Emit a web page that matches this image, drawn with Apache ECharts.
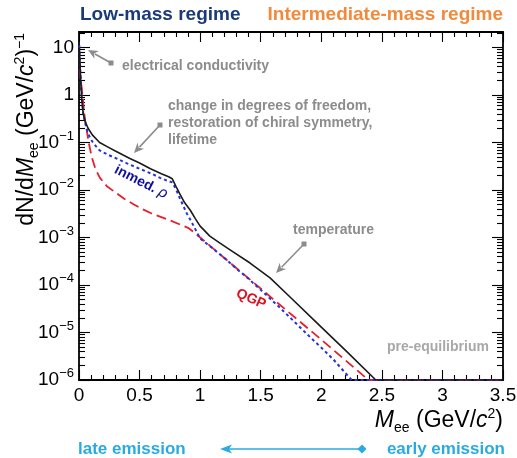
<!DOCTYPE html>
<html><head><meta charset="utf-8">
<script src="https://cdn.jsdelivr.net/npm/echarts@6.0.0/dist/echarts.min.js"></script>
<style>html,body{margin:0;padding:0;background:#fff}#c{width:517px;height:458px}</style>
</head><body><div id="c"></div>
<script>
// ---- data (M_ee in GeV/c^2, dN/dM_ee) ----
const totalMass  = [0.003, 0.01, 0.018, 0.025, 0.035, 0.05, 0.075, 0.11, 0.17, 0.24, 0.3, 0.36, 0.42, 0.5, 0.59, 0.68, 0.74, 0.77, 0.8, 0.83, 0.87, 0.92, 0.96, 1.0, 1.08, 1.164, 1.247, 1.412, 1.577, 1.742, 2.0, 2.2, 2.45, 3.5];
const totalYield = [10, 3.5, 1.3, 0.7, 0.4, 0.28, 0.2, 0.145, 0.1, 0.08, 0.066, 0.055, 0.046, 0.037, 0.028, 0.022, 0.019, 0.0172, 0.012, 0.0085, 0.0055, 0.0037, 0.0025, 1.74e-3, 1.07e-3, 7.6e-4, 5.5e-4, 2.9e-4, 1.41e-4, 5.6e-5, 1.3e-5, 4.2e-6, 1e-6, 1e-6];
const rhoMass    = [0.003, 0.008, 0.015, 0.025, 0.035, 0.05, 0.07, 0.09, 0.12, 0.17, 0.24, 0.31, 0.4, 0.5, 0.6, 0.67, 0.72, 0.77, 0.8, 0.83, 0.86, 0.89, 0.93, 0.96, 1.0, 1.1, 1.2, 1.3, 1.4, 1.5, 1.66, 1.8, 1.91, 2.0, 2.1, 2.25, 3.5];
const rhoYield   = [11, 4.5, 1.8, 0.76, 0.42, 0.26, 0.17, 0.126, 0.095, 0.068, 0.055, 0.046, 0.036, 0.028, 0.022, 0.018, 0.016, 0.0145, 0.0105, 0.0069, 0.0047, 0.0032, 0.0021, 0.0015, 9.5e-4, 6.0e-4, 3.7e-4, 2.2e-4, 1.35e-4, 7.9e-5, 3.3e-5, 1.48e-5, 7.9e-6, 4.8e-6, 2.7e-6, 1e-6, 1e-6];
const qgpMass    = [0.005, 0.015, 0.022, 0.03, 0.041, 0.05, 0.064, 0.08, 0.105, 0.135, 0.173, 0.23, 0.3, 0.37, 0.45, 0.52, 0.6, 0.75, 0.9, 0.95, 1.0, 1.2, 1.4, 1.6, 1.8, 2.0, 2.2, 2.39, 3.5];
const qgpYield   = [3.5, 2.0, 1.45, 0.9, 0.47, 0.3, 0.18, 0.1, 0.05, 0.028, 0.018, 0.012, 0.0089, 0.0066, 0.005, 0.004, 0.0032, 0.0023, 0.0016, 0.00128, 0.001, 3.7e-4, 1.38e-4, 5.1e-5, 1.9e-5, 7.1e-6, 2.6e-6, 1e-6, 1e-6];

const xTickValues = [0, 0.5, 1, 1.5, 2, 2.5, 3, 3.5];
const yDecades    = [1e-6, 1e-5, 1e-4, 1e-3, 1e-2, 1e-1, 1, 10];
const Y_MIN = 1e-6, Y_MAX = 21.2;

const yMinorTicks = [];
yDecades.forEach(d => { for (let k = 2; k <= 9; k++) { const v = d * k; if (v <= Y_MAX) yMinorTicks.push(v); } });

const zip = (a, b) => a.map((x, i) => [x, b[i]]);
const FONT = '"Liberation Sans", Arial, Helvetica, sans-serif';
const GRAY = '#8c8c8c';

function yLabel(v) {
  const n = Math.round(Math.log10(v));
  if (n === 0) return '{b|1}';
  if (n === 1) return '{b|10}';
  return '{b|10}{s|' + (n < 0 ? '\u2212' : '') + Math.abs(n) + '}';
}

function yAxisDef(pos, major) {
  return {
    type: 'log', logBase: 10, min: Y_MIN, max: Y_MAX, position: pos,
    axisLine: { show: major, onZero: false, lineStyle: { color: '#000', width: 1.8 } },
    axisTick: { show: true, inside: true, length: major ? 11 : 6,
      customValues: major ? yDecades : yMinorTicks, lineStyle: { color: '#000', width: 1.1 } },
    minorTick: { show: false },
    splitLine: { show: false },
    axisLabel: (major && pos === 'left') ? {
      show: true, customValues: yDecades, formatter: yLabel, margin: 5,
      rich: {
        b: { fontSize: 19, fontFamily: FONT, color: '#000', lineHeight: 26 },
        s: { fontSize: 13, fontFamily: FONT, color: '#000', verticalAlign: 'top' }
      }
    } : { show: false }
  };
}

function xAxisDef(pos) {
  return {
    type: 'value', min: 0, max: 3.5, interval: 0.5, position: pos,
    axisLine: { show: true, onZero: false, lineStyle: { color: '#000', width: 1.8 } },
    axisTick: { show: true, inside: true, length: 10, lineStyle: { color: '#000', width: 1.1 } },
    minorTick: { show: true, splitNumber: 5, length: 5, lineStyle: { color: '#000', width: 1.1 } },
    splitLine: { show: false },
    axisLabel: pos === 'bottom' ? { show: true, customValues: xTickValues, fontSize: 19, fontFamily: FONT, color: '#000', margin: 6 } : { show: false }
  };
}

function arrow(x1, y1, x2, y2, color, w) {
  const a = Math.atan2(y2 - y1, x2 - x1), L = 10, W = 4.5;
  const c = Math.cos(a), s = Math.sin(a);
  const bx = x2 - L * c, by = y2 - L * s;
  return [
    { type: 'line', shape: { x1: x1, y1: y1, x2: bx + 2 * c, y2: by + 2 * s }, style: { stroke: color, lineWidth: w }, z: 50 },
    { type: 'polygon', shape: { points: [[x2, y2], [bx + W * s, by - W * c], [bx + 3 * c, by + 3 * s], [bx - W * s, by + W * c]] }, style: { fill: color }, z: 50 },
    { type: 'rect', shape: { x: x1 - 2.5, y: y1 - 2.5, width: 5, height: 5 }, style: { fill: color }, z: 50 }
  ];
}

function txt(x, y, text, opt) {
  return Object.assign({ type: 'text', x: x, y: y, z: 60,
    style: Object.assign({ text: text, fontFamily: FONT, fontSize: 14, fontWeight: 'bold', fill: GRAY, align: 'left', verticalAlign: 'middle' }, opt || {}) });
}

const chart = echarts.init(document.getElementById('c'), null, { renderer: 'canvas' });

const titleRich = {
  t: { fontFamily: FONT, fontSize: 23, fill: '#000', lineHeight: 28 },
  i: { fontFamily: FONT, fontSize: 23, fontStyle: 'italic', fill: '#000', lineHeight: 28 },
  sub: { fontFamily: FONT, fontSize: 14, fill: '#000', verticalAlign: 'bottom' },
  sup: { fontFamily: FONT, fontSize: 14, fill: '#000', verticalAlign: 'top' }
};

const graphics = [];
// headers
graphics.push(txt(80, 15, 'Low-mass regime', { fontSize: 19, fill: '#1b3a78' }));
graphics.push(txt(503, 15, 'Intermediate-mass regime', { fontSize: 19, fill: '#f28a3c', align: 'right' }));
// annotations
graphics.push(txt(122, 66, 'electrical conductivity'));
graphics.push(...arrow(111, 63, 88, 50, GRAY, 1.6));
graphics.push(txt(168, 106, 'change in degrees of freedom,'));
graphics.push(txt(168, 123, 'restoration of chiral symmetry,'));
graphics.push(txt(168, 140, 'lifetime'));
graphics.push(...arrow(160, 125, 134, 153, GRAY, 1.6));
graphics.push(txt(293, 230, 'temperature'));
graphics.push(...arrow(304, 244, 276, 273, GRAY, 1.6));
graphics.push(txt(387, 347, 'pre-equilibrium', { fill: '#a8a8a8' }));
// curve labels
graphics.push({ type: 'text', x: 141, y: 182, rotation: -0.47, z: 60,
  style: { text: '{a|inmed. }{r|\u03c1}', align: 'center', verticalAlign: 'middle',
    rich: { a: { fontFamily: FONT, fontSize: 14, fontWeight: 'bold', fill: '#1010a0' },
            r: { fontFamily: FONT, fontSize: 15, fontStyle: 'italic', fill: '#1010a0' } } } });
graphics.push({ type: 'text', x: 251, y: 299, rotation: -0.42, z: 60,
  style: { text: 'QGP', align: 'center', verticalAlign: 'middle', fontFamily: FONT, fontSize: 14, fontWeight: 'bold', fill: '#e01020' } });
// axis titles
graphics.push({ type: 'text', x: 27, y: 33, rotation: Math.PI / 2, z: 60,
  style: { text: '{t|dN/d}{i|M}{sub|ee}{t| (GeV/}{i|c}{sup|2}{t|)}{sup|\u22121}', align: 'right', verticalAlign: 'middle', rich: titleRich } });
graphics.push({ type: 'text', x: 503, y: 421, z: 60,
  style: { text: '{i|M}{sub|ee}{t| (GeV/}{i|c}{sup|2}{t|)}', align: 'right', verticalAlign: 'middle', rich: titleRich } });
// emission time arrow
const CY = '#29abe2';
graphics.push(txt(78, 449, 'late emission', { fontSize: 17, fill: CY }));
graphics.push(txt(505, 449, 'early emission', { fontSize: 17, fill: CY, align: 'right' }));
graphics.push({ type: 'line', shape: { x1: 228, y1: 449, x2: 362, y2: 449 }, style: { stroke: CY, lineWidth: 1.6 }, z: 50 });
graphics.push({ type: 'polygon', shape: { points: [[220, 449], [232, 444.5], [229, 449], [232, 453.5]] }, style: { fill: CY }, z: 50 });
graphics.push({ type: 'polygon', shape: { points: [[362, 444.5], [366.5, 449], [362, 453.5], [357.5, 449]] }, style: { fill: CY }, z: 50 });

chart.setOption({
  animation: false,
  backgroundColor: '#fff',
  grid: { left: 79, right: 14, top: 32, bottom: 78, containLabel: false, outerBoundsMode: 'none' },
  xAxis: [xAxisDef('bottom'), xAxisDef('top')],
  yAxis: [yAxisDef('left', true), yAxisDef('left', false), yAxisDef('right', true), yAxisDef('right', false)],
  series: [
    { name: 'QGP', type: 'line', data: zip(qgpMass, qgpYield), showSymbol: false, smooth: false,
      lineStyle: { color: '#e5202a', width: 1.8, type: [10, 5] }, z: 3 },
    { name: 'inmed rho', type: 'line', data: zip(rhoMass, rhoYield), showSymbol: false, smooth: false,
      lineStyle: { color: '#2633d6', width: 2, type: [3, 3] }, z: 4 },
    { name: 'total', type: 'line', data: zip(totalMass, totalYield), showSymbol: false, smooth: false,
      lineStyle: { color: '#1a1a1a', width: 1.6 }, z: 5 }
  ],
  graphic: graphics
});
</script></body></html>
